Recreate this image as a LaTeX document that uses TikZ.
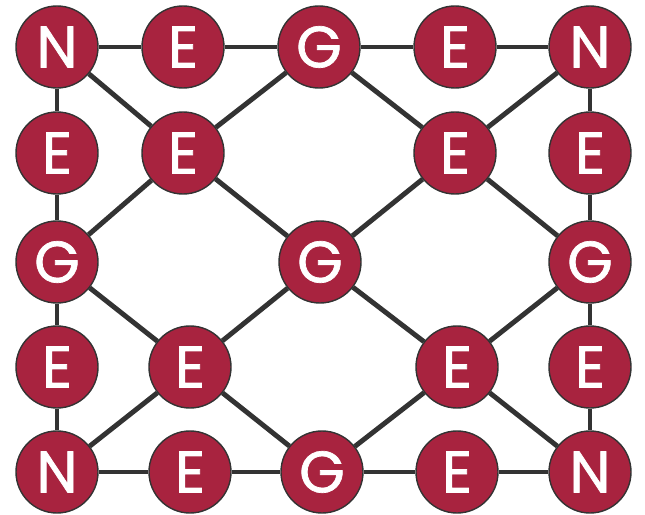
\documentclass[tikz,border=0pt]{standalone}
\usepackage{fontspec}
\setmainfont{Poppins}
\newfontfamily\sitefont{Poppins}[FakeBold=1.2]
\usepackage{tikz}
\usetikzlibrary{positioning}
\definecolor{GridRed}{HTML}{A8233F}
\definecolor{GridInk}{HTML}{333333}
\tikzset{
  site/.style={circle, draw=GridInk, line width=1.2pt, fill=GridRed,
               minimum size=2.46cm, inner sep=0pt, text=white,
               font=\sitefont\fontsize{50}{50}\selectfont},
  bond/.style={draw=GridInk, line width=4.2pt}
}

\begin{document}
\begin{tikzpicture}[x=0.03cm, y=-0.03cm]
  \useasboundingbox (0,0) rectangle (645,515);
  % outer frame
  \node[site] (n1) at (57,47)   {N};
  \node[site] (t1) at (183,47)  {E};
  \node[site] (gt) at (319,47)  {G};
  \node[site] (t2) at (455,47)  {E};
  \node[site] (n2) at (590,47)  {N};
  \node[site] (l1) at (57,153)  {E};
  \node[site] (r1) at (590,153) {E};
  \node[site] (gl) at (57,262)  {G};
  \node[site] (gr) at (590,262) {G};
  \node[site] (l2) at (57,367)  {E};
  \node[site] (r2) at (590,367) {E};
  \node[site] (n3) at (57,472)  {N};
  \node[site] (b1) at (190,472) {E};
  \node[site] (gb) at (322,472) {G};
  \node[site] (b2) at (457,472) {E};
  \node[site] (n4) at (590,472) {N};
  % inner diamond
  \node[site] (i1) at (183,153) {E};
  \node[site] (i2) at (455,153) {E};
  \node[site] (gm) at (320,262) {G};
  \node[site] (i3) at (190,367) {E};
  \node[site] (i4) at (457,367) {E};
  \foreach \a/\b in {n1/t1, t1/gt, gt/t2, t2/n2, n3/b1, b1/gb, gb/b2, b2/n4,
                     n1/l1, l1/gl, gl/l2, l2/n3, n2/r1, r1/gr, gr/r2, r2/n4,
                     i1/n1, i1/gt, i1/gl, i1/gm, i2/gt, i2/n2, i2/gm, i2/gr,
                     i3/gl, i3/gm, i3/n3, i3/gb, i4/gm, i4/gr, i4/gb, i4/n4}
    \draw[bond] (\a) -- (\b);
\end{tikzpicture}
\end{document}
